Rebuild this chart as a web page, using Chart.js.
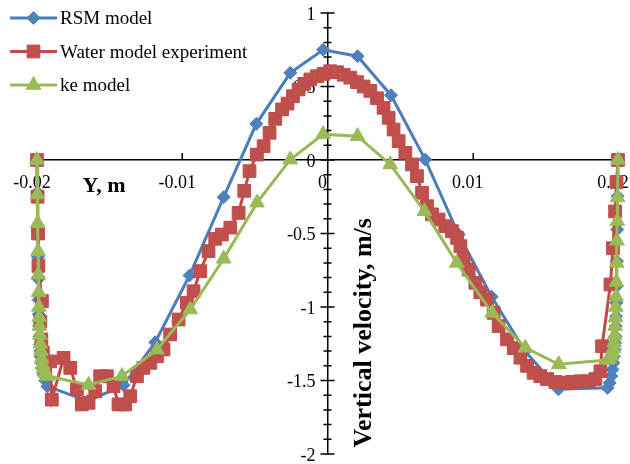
<!DOCTYPE html>
<html>
<head>
<meta charset="utf-8">
<script src="https://cdn.jsdelivr.net/npm/chart.js@4.4.1/dist/chart.umd.min.js"></script>
<style>
  html, body { margin: 0; padding: 0; background: #fff; }
  canvas { display: block; }
</style>
</head>
<body>
<canvas id="chart" width="630" height="464"></canvas>
<script>
// Vertical velocity profiles across the channel width (Y, m)

const seriesNames = ['RSM model', 'Water model experiment', 'ke model'];
const xTitle = 'Y, m';
const yTitle = 'Vertical velocity, m/s';

// RSM model
const rsmX = [-0.02, -0.01997, -0.01995, -0.01993, -0.01991, -0.01989, -0.01987, -0.01985, -0.01983, -0.0198,
  -0.01977, -0.01973, -0.01968, -0.01962, -0.01954, -0.01943, -0.01928,
  -0.0165, -0.01404, -0.01186, -0.0095, -0.00715, -0.0049, -0.00256, -0.0003,
  0.00207, 0.00437, 0.00673, 0.00903, 0.0113, 0.0136, 0.0159,
  0.01928, 0.01943, 0.01954, 0.01962, 0.01968, 0.01973, 0.01977, 0.0198, 0.01983,
  0.01985, 0.01987, 0.01989, 0.01991, 0.01993, 0.01995, 0.01997, 0.02];
const rsmV = [0, -0.22, -0.47, -0.66, -0.81, -0.95, -1.05, -1.13, -1.2, -1.255,
  -1.3, -1.34, -1.38, -1.42, -1.46, -1.5, -1.54,
  -1.64, -1.532, -1.24, -0.786, -0.253, 0.246, 0.593, 0.75,
  0.706, 0.441, 0.003, -0.507, -0.93, -1.3, -1.56,
  -1.55, -1.516, -1.47, -1.425, -1.38, -1.335, -1.29, -1.243, -1.2,
  -1.13, -1.063, -0.971, -0.858, -0.688, -0.473, -0.246, 0];

// Water model experiment
const expX = [-0.02, -0.01996, -0.01993, -0.0199, -0.01966, -0.01977, -0.0197, -0.0196, -0.01909, -0.01898,
  -0.01817, -0.01771, -0.01725, -0.01691, -0.01645, -0.01599, -0.01565, -0.01519, -0.01473, -0.01439,
  -0.01393, -0.01358, -0.01312, -0.01267, -0.0122, -0.01174, -0.01129, -0.01083, -0.01025, -0.00968,
  -0.00922, -0.00876, -0.00819, -0.00773, -0.00727, -0.00669, -0.00612, -0.00573, -0.00537, -0.00486,
  -0.0044, -0.00399, -0.0036, -0.00313, -0.00275, -0.00238, -0.00199, -0.0016, -0.00118, -0.00072,
  -0.00027, 0.00019, 0.00065, 0.00111, 0.00157, 0.00203, 0.00249, 0.00295, 0.00341, 0.00386,
  0.00421, 0.00455, 0.0049, 0.00536, 0.00582, 0.00616, 0.00651, 0.00685, 0.0072, 0.00765,
  0.00811, 0.00857, 0.00892, 0.00915, 0.00937, 0.00972, 0.01018, 0.01052, 0.01098, 0.01144,
  0.01178, 0.01236, 0.01282, 0.01328, 0.01374, 0.01419, 0.01465, 0.01512, 0.01569, 0.01626,
  0.01684, 0.01741, 0.01798, 0.01844, 0.01879, 0.0189, 0.01948, 0.01965, 0.0198, 0.0199, 0.02];
const expV = [0, -0.25, -0.5, -0.72, -0.96, -1.1, -1.22, -1.31, -1.37, -1.63,
  -1.346, -1.414, -1.56, -1.663, -1.652, -1.573, -1.471, -1.471, -1.539, -1.663,
  -1.663, -1.607, -1.471, -1.414, -1.38, -1.335, -1.289, -1.187, -1.085, -0.971,
  -0.893, -0.756, -0.62, -0.536, -0.507, -0.46, -0.36, -0.21, -0.076, 0.037,
  0.094, 0.185, 0.28, 0.344, 0.384, 0.434, 0.48, 0.518, 0.548, 0.57,
  0.586, 0.604, 0.597, 0.58, 0.56, 0.53, 0.5, 0.47, 0.42, 0.355,
  0.287, 0.207, 0.128, 0.049, -0.03, -0.11, -0.223, -0.314, -0.37, -0.405,
  -0.45, -0.484, -0.53, -0.586, -0.677, -0.745, -0.835, -0.9, -0.95, -1.04,
  -1.13, -1.22, -1.28, -1.345, -1.4, -1.448, -1.47, -1.49, -1.51, -1.515,
  -1.51, -1.505, -1.505, -1.49, -1.437, -1.267, -0.847, -0.6, -0.35, -0.15, 0];

// ke model
const keX = [-0.02, -0.01997, -0.01995, -0.01993, -0.01991, -0.01989, -0.01987, -0.01985, -0.01983, -0.0198,
  -0.01977, -0.01973, -0.01968, -0.01962, -0.01954, -0.01943, -0.01928,
  -0.01645, -0.01415, -0.01174, -0.00945, -0.00715, -0.00485, -0.00256, -0.0003,
  0.00207, 0.00432, 0.00667, 0.0089, 0.01133, 0.01362, 0.01592,
  0.01928, 0.01943, 0.01954, 0.01962, 0.01968, 0.01973, 0.01977, 0.0198, 0.01983,
  0.01985, 0.01987, 0.01989, 0.01991, 0.01993, 0.01995, 0.01997, 0.02];
const keV = [0, -0.235, -0.43, -0.62, -0.78, -0.9, -1.0, -1.07, -1.13, -1.19,
  -1.25, -1.3, -1.35, -1.39, -1.42, -1.45, -1.47,
  -1.53, -1.47, -1.29, -1.017, -0.672, -0.29, 0.003, 0.175,
  0.162, -0.03, -0.348, -0.7, -1.04, -1.278, -1.39,
  -1.36, -1.35, -1.33, -1.31, -1.28, -1.24, -1.19, -1.13, -1.07,
  -1.0, -0.93, -0.83, -0.7, -0.55, -0.416, -0.255, 0];

const yMinorStep = 0.1;
const serif = '"Liberation Serif", "Times New Roman", serif';

const toPoints = (xs, vs) => xs.map((x, i) => ({ x: x, y: vs[i] }));
const fmt = v => {
  const r = Math.round(v * 1000) / 1000;
  return String(Object.is(r, -0) ? 0 : r);
};
const noEdgePadding = s => { s.paddingTop = 0; s.paddingBottom = 0; s.paddingLeft = 0; s.paddingRight = 0; };

// Tick marks (upward on the horizontal axis, crossing on the vertical axis)
// and the vertical axis labels, set back from the centred axis line
const axisMarks = {
  id: 'axisMarks',
  beforeDatasetsDraw(chart) {
    const { ctx, scales: { x, y } } = chart;
    const xAxisPx = y.getPixelForValue(0);
    const yAxisPx = x.getPixelForValue(0);
    ctx.save();
    ctx.strokeStyle = '#000';
    ctx.lineWidth = 1.5;
    ctx.beginPath();
    x.ticks.forEach(t => {
      if (Math.abs(t.value) < 1e-9) return;
      const px = Math.round(x.getPixelForValue(t.value)) + 0.25;
      ctx.moveTo(px, xAxisPx - 7);
      ctx.lineTo(px, xAxisPx);
    });
    const kMin = Math.round(y.min / yMinorStep), kMax = Math.round(y.max / yMinorStep);
    for (let k = kMin; k <= kMax; k++) {
      const py = y.getPixelForValue(k * yMinorStep);
      const len = (k % 5 === 0) ? 7 : 4;
      ctx.moveTo(yAxisPx - len, py);
      ctx.lineTo(yAxisPx + len, py);
    }
    ctx.stroke();

    ctx.fillStyle = '#000';
    ctx.font = '18px ' + serif;
    ctx.textAlign = 'right';
    ctx.textBaseline = 'middle';
    y.ticks.forEach(t => {
      ctx.fillText(fmt(t.value), yAxisPx - 12, y.getPixelForValue(t.value) + 2);
    });
    ctx.restore();
  }
};

// Axis titles
const axisTitles = {
  id: 'axisTitles',
  afterDatasetsDraw(chart) {
    const { ctx, chartArea, scales: { x, y } } = chart;
    const xAxisPx = y.getPixelForValue(0);
    const yAxisPx = x.getPixelForValue(0);
    ctx.save();
    ctx.fillStyle = '#000';
    ctx.textAlign = 'center';
    ctx.textBaseline = 'middle';
    ctx.font = 'bold 22px ' + serif;
    ctx.fillText(xTitle, chartArea.left + 67, xAxisPx + 26);
    ctx.translate(yAxisPx + 37, y.getPixelForValue(-1.175));
    ctx.rotate(-Math.PI / 2);
    ctx.font = 'bold 26px ' + serif;
    ctx.fillText(yTitle, 0, 0);
    ctx.restore();
  }
};

// Legend: line sample with marker, then series name
const lineLegend = {
  id: 'lineLegend',
  afterDraw(chart) {
    const { ctx } = chart;
    ctx.save();
    chart.data.datasets.forEach((ds, i) => {
      const yy = 18 + i * 33.5;
      ctx.strokeStyle = ds.borderColor;
      ctx.lineWidth = ds.borderWidth;
      ctx.beginPath();
      ctx.moveTo(10, yy);
      ctx.lineTo(57, yy);
      ctx.stroke();
      ctx.fillStyle = ds.pointBackgroundColor;
      ctx.strokeStyle = ds.pointBorderColor;
      ctx.lineWidth = ds.pointBorderWidth;
      Chart.helpers.drawPoint(ctx, { pointStyle: ds.pointStyle, radius: ds.pointRadius, borderWidth: ds.pointBorderWidth, rotation: 0 }, 33.5, yy);
      ctx.fillStyle = '#000';
      ctx.font = '19px ' + serif;
      ctx.textAlign = 'left';
      ctx.textBaseline = 'middle';
      ctx.fillText(ds.label, 60, yy + 1.5);
    });
    ctx.restore();
  }
};

const common = { showLine: true, tension: 0, borderWidth: 3, pointBorderWidth: 1, clip: false };

new Chart(document.getElementById('chart'), {
  type: 'scatter',
  data: {
    datasets: [
      Object.assign({}, common, {
        label: seriesNames[0], data: toPoints(rsmX, rsmV), order: 3,
        borderColor: '#4A7EBB', backgroundColor: '#4F81BD',
        pointBackgroundColor: '#4F81BD', pointBorderColor: '#4A7EBB',
        pointStyle: 'rectRot', pointRadius: 6.5
      }),
      Object.assign({}, common, {
        label: seriesNames[1], data: toPoints(expX, expV), order: 2,
        borderColor: '#BE4B48', backgroundColor: '#C0504D',
        pointBackgroundColor: '#C0504D', pointBorderColor: '#BE4B48',
        pointStyle: 'rect', pointRadius: 9
      }),
      Object.assign({}, common, {
        label: seriesNames[2], data: toPoints(keX, keV), order: 1,
        borderColor: '#98B954', backgroundColor: '#9BBB59',
        pointBackgroundColor: '#9BBB59', pointBorderColor: '#98B954',
        pointStyle: 'triangle', pointRadius: 8.5
      })
    ]
  },
  options: {
    responsive: false,
    animation: false,
    events: [],
    layout: { padding: { left: 37, right: 12, top: 13, bottom: 8 } },
    plugins: { legend: { display: false }, tooltip: { enabled: false } },
    scales: {
      x: {
        type: 'linear', min: -0.02, max: 0.02,
        position: { y: 0 },
        grid: { display: true, drawOnChartArea: false, drawTicks: false },
        border: { display: true, color: '#000', width: 1.5 },
        ticks: {
          stepSize: 0.01, padding: 12, labelOffset: -5, color: '#000',
          font: { family: serif, size: 18 }, maxRotation: 0, autoSkip: false,
          callback: v => fmt(v)
        },
        afterFit: noEdgePadding
      },
      y: {
        type: 'linear', min: -2, max: 1,
        position: { x: 0 },
        grid: { display: true, drawOnChartArea: false, drawTicks: false },
        border: { display: true, color: '#000', width: 1.5 },
        ticks: { display: false, stepSize: 0.5, autoSkip: false },
        afterFit: noEdgePadding
      }
    }
  },
  plugins: [axisMarks, axisTitles, lineLegend]
});
</script>
</body>
</html>
